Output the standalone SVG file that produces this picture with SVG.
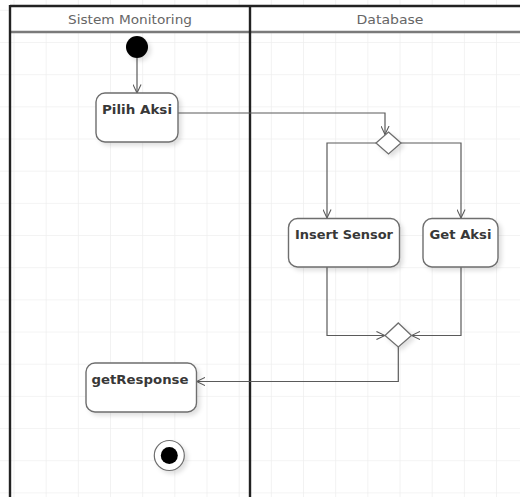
<svg xmlns="http://www.w3.org/2000/svg" width="520" height="497" viewBox="0 0 520 497">
  <style>
    .lane { fill: none; stroke: #222; stroke-width: 2.4; }
    .laneHead { fill: none; stroke: #7a7a7a; stroke-width: 2.4; }
    .head { font-family: "DejaVu Sans", sans-serif; font-size: 13px; fill: #666; text-anchor: middle; }
    .act { fill: #fff; stroke: #6e6e6e; stroke-width: 1.4; }
    .lbl { font-family: "DejaVu Sans", sans-serif; font-size: 13px; font-weight: bold; fill: #383838; text-anchor: middle; }
    .flow { fill: none; stroke: #5a5a5a; stroke-width: 1.2; }
    .dec { fill: #fff; stroke: #6e6e6e; stroke-width: 1.3; }
  </style>
  <defs>
    <pattern id="grid" patternUnits="userSpaceOnUse" x="13.5" y="9.85" width="32.17" height="32.17">
      <path d="M0 0H32.17M0 0V32.17" fill="none" stroke="#efefef" stroke-width="1.6"/>
    </pattern>
    <filter id="shadow" x="-30%" y="-30%" width="160%" height="160%">
      <feDropShadow dx="3" dy="3" stdDeviation="2" flood-color="#000" flood-opacity="0.12"/>
    </filter>
    <marker id="open" viewBox="0 0 10 10" refX="9.5" refY="5" markerWidth="9" markerHeight="9" markerUnits="userSpaceOnUse" orient="auto">
      <path d="M0 0.5L9.5 5L0 9.5" fill="none" stroke="#5a5a5a" stroke-width="1.2"/>
    </marker>
  </defs>

  <!-- background grid -->
  <rect width="520" height="497" fill="#fff"/>
  <rect width="520" height="497" fill="url(#grid)"/>

  <!-- swimlanes -->
  <g id="lanes">
    <rect x="10" y="6" width="510" height="26" fill="#fff"/>
    <line class="laneHead" x1="10" y1="32" x2="520" y2="32"/>
    <line class="lane" x1="10" y1="6" x2="520" y2="6"/>
    <line class="lane" x1="10" y1="5" x2="10" y2="497"/>
    <line class="lane" x1="250" y1="5" x2="250" y2="497"/>
    <text class="head" x="130" y="24" textLength="124" lengthAdjust="spacingAndGlyphs">Sistem Monitoring</text>
    <text class="head" x="390" y="24" textLength="67" lengthAdjust="spacingAndGlyphs">Database</text>
  </g>

  <!-- control flows -->
  <g id="connectors">
    <path class="flow" d="M137 58V93" marker-end="url(#open)"/>
    <path class="flow" d="M178 113H385V134.5" marker-end="url(#open)"/>
    <path class="flow" d="M376 143H327V218" marker-end="url(#open)"/>
    <path class="flow" d="M401 143H461V218" marker-end="url(#open)"/>
    <path class="flow" d="M327 267V335.5H385" marker-end="url(#open)"/>
    <path class="flow" d="M461 267V335.5H411.5" marker-end="url(#open)"/>
    <path class="flow" d="M398.3 347V381.5H196.5" marker-end="url(#open)"/>
  </g>

  <g id="start">
    <circle cx="137" cy="47" r="11" fill="#000" filter="url(#shadow)"/>
  </g>

  <g id="pilihAksi">
    <rect class="act" x="96" y="93" width="82" height="49" rx="9" filter="url(#shadow)"/>
    <text class="lbl" x="137" y="114" textLength="70" lengthAdjust="spacingAndGlyphs">Pilih Aksi</text>
  </g>

  <g id="decision">
    <polygon class="dec" points="388.5,132 401,143 388.5,154 376,143" filter="url(#shadow)"/>
  </g>

  <g id="insertSensor">
    <rect class="act" x="288.5" y="218.5" width="111" height="48.5" rx="9" filter="url(#shadow)"/>
    <text class="lbl" x="344" y="239" textLength="98" lengthAdjust="spacingAndGlyphs">Insert Sensor</text>
  </g>

  <g id="getAksi">
    <rect class="act" x="423" y="218.5" width="75" height="48.5" rx="9" filter="url(#shadow)"/>
    <text class="lbl" x="460.5" y="239" textLength="62" lengthAdjust="spacingAndGlyphs">Get Aksi</text>
  </g>

  <g id="merge">
    <polygon class="dec" points="398.3,323 411.5,335.5 398.3,347 385,335.5" filter="url(#shadow)"/>
  </g>

  <g id="getResponse">
    <rect class="act" x="86" y="363" width="110.5" height="49" rx="9" filter="url(#shadow)"/>
    <text class="lbl" x="140" y="384" textLength="97" lengthAdjust="spacingAndGlyphs">getResponse</text>
  </g>

  <g id="end">
    <circle cx="169.3" cy="455.5" r="15" fill="#fff" stroke="#6e6e6e" stroke-width="1.2" filter="url(#shadow)"/>
    <circle cx="169.3" cy="455.5" r="8.5" fill="#000"/>
  </g>
</svg>
